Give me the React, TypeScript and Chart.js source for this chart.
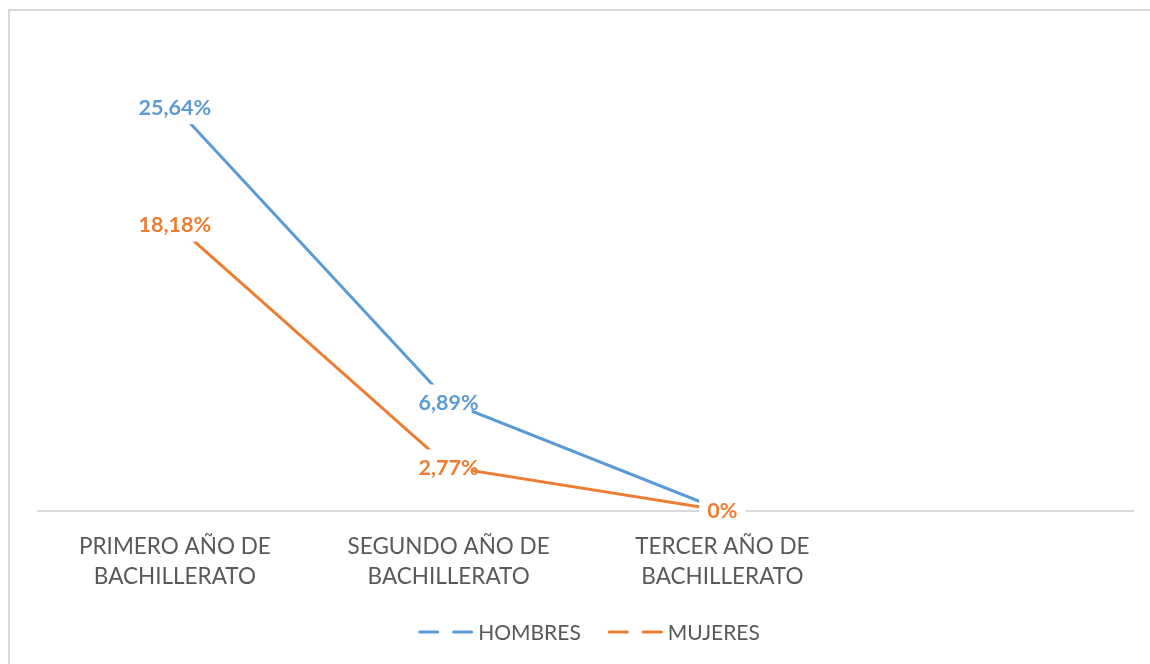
import React, { useEffect, useRef } from 'react';
import { Chart, registerables } from 'chart.js';

Chart.register(...registerables);

const categories: string[][] = [
  ['PRIMERO AÑO DE', 'BACHILLERATO'],
  ['SEGUNDO AÑO DE', 'BACHILLERATO'],
  ['TERCER AÑO DE', 'BACHILLERATO'],
];
const seriesNames = ['HOMBRES', 'MUJERES'];
const hombres = [25.64, 6.89, 0];
const mujeres = [18.18, 2.77, 0];
const hombresLabels = ['25,64%', '6,89%', '0%'];
const mujeresLabels = ['18,18%', '2,77%', '0%'];
const colors = ['#5B9BD5', '#ED7D31'];

const FONT = 'Lato, "Open Sans", sans-serif';

const framePlugin = {
  id: 'frame',
  beforeDraw(chart: any) {
    const ctx = chart.ctx;
    ctx.save();
    ctx.fillStyle = '#ffffff';
    ctx.fillRect(0, 0, chart.width, chart.height);
    ctx.strokeStyle = '#d9d9d9';
    ctx.lineWidth = 2;
    ctx.beginPath();
    ctx.moveTo(9, chart.height);
    ctx.lineTo(9, 10);
    ctx.lineTo(chart.width, 10);
    ctx.stroke();
    ctx.restore();
  },
};

const labelPlugin = {
  id: 'pointLabels',
  afterDatasetsDraw(chart: any) {
    const ctx = chart.ctx;
    const allLabels = [hombresLabels, mujeresLabels];
    ctx.save();
    chart.data.datasets.forEach((ds: any, i: number) => {
      const meta = chart.getDatasetMeta(i);
      meta.data.forEach((pt: any, j: number) => {
        const { x, y } = pt;
        ctx.fillStyle = '#ffffff';
        ctx.fillRect(x - 23, y - 17.5, 46, 35);
        ctx.fillStyle = colors[i];
        ctx.font = `bold 21.5px ${FONT}`;
        ctx.textAlign = 'center';
        ctx.textBaseline = 'middle';
        ctx.fillText(allLabels[i][j], x, y + 1);
      });
    });
    ctx.restore();
  },
};

const legendPlugin = {
  id: 'customLegend',
  afterDraw(chart: any) {
    const ctx = chart.ctx;
    ctx.save();
    ctx.font = `21px ${FONT}`;
    const seg = 21;
    const gapSeg = 13;
    const sampleW = seg * 2 + gapSeg;
    const textGap = 5;
    const itemGap = 27;
    const widths = seriesNames.map((n) => sampleW + textGap + ctx.measureText(n).width);
    const total = widths.reduce((a, b) => a + b, 0) + itemGap * (seriesNames.length - 1);
    let x = chart.width / 2 - total / 2 + 14;
    const y = chart.height - 32;
    seriesNames.forEach((n, i) => {
      ctx.strokeStyle = colors[i];
      ctx.lineWidth = 3;
      ctx.lineCap = 'round';
      ctx.beginPath();
      ctx.moveTo(x + 1.5, y);
      ctx.lineTo(x + seg - 1.5, y);
      ctx.moveTo(x + seg + gapSeg + 1.5, y);
      ctx.lineTo(x + sampleW - 1.5, y);
      ctx.stroke();
      ctx.fillStyle = '#595959';
      ctx.textAlign = 'left';
      ctx.textBaseline = 'middle';
      ctx.fillText(n, x + sampleW + textGap, y + 1);
      x += widths[i] + itemGap;
    });
    ctx.restore();
  },
};

export default function App() {
  const ref = useRef<HTMLCanvasElement | null>(null);
  useEffect(() => {
    document.body.style.overflow = 'hidden';
    document.body.style.margin = '0';
    let chart: Chart | null = null;
    let cancelled = false;
    const make = () => {
      if (cancelled || !ref.current) return;
      chart = new Chart(ref.current, {
        type: 'line',
        data: {
          labels: [...categories, ''] as any,
          datasets: [
            { label: seriesNames[0], data: hombres, borderColor: colors[0], backgroundColor: colors[0], borderWidth: 3, pointRadius: 0, tension: 0 },
            { label: seriesNames[1], data: mujeres, borderColor: colors[1], backgroundColor: colors[1], borderWidth: 3, pointRadius: 0, tension: 0 },
          ],
        },
        options: {
          responsive: false,
          animation: false,
          layout: { padding: { left: 38, right: 17, top: 38, bottom: 51.5 } },
          plugins: { legend: { display: false }, tooltip: { enabled: false } },
          scales: {
            x: {
              type: 'category',
              offset: true,
              grid: { display: false, drawTicks: false },
              border: { display: true, color: '#d9d9d9', width: 2 },
              ticks: {
                color: '#595959',
                font: { family: FONT, size: 22.5, lineHeight: 30 / 22.5 },
                padding: 21,
                maxRotation: 0,
                autoSkip: false,
              },
            },
            y: { display: false, min: 0, max: 30 },
          },
        },
        plugins: [framePlugin, labelPlugin, legendPlugin],
      });
    };
    Promise.all([
      document.fonts.load(`22px Lato`),
      document.fonts.load(`bold 21px Lato`),
    ]).then(make, make);
    return () => {
      cancelled = true;
      if (chart) chart.destroy();
    };
  }, []);
  return <canvas ref={ref} width={1150} height={664} style={{ display: 'block' }} />;
}
